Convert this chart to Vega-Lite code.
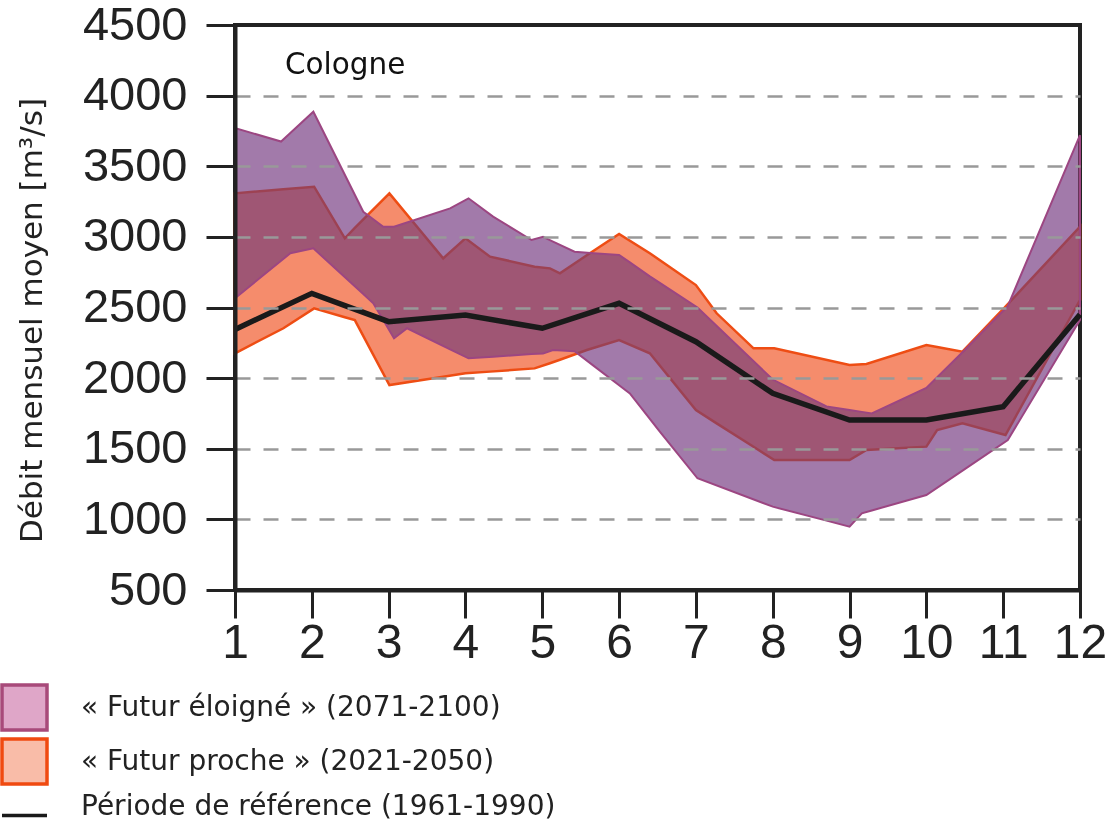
{
  "$schema": "https://vega.github.io/schema/vega-lite/v6.json",
  "width": 845,
  "height": 565,
  "autosize": "none",
  "padding": {"left": 235, "top": 25, "right": 35, "bottom": 231},
  "background": "white",
  "config": {
    "view": {"stroke": "#222", "strokeWidth": 4},
    "font": "DejaVu Sans"
  },
  "datasets": {
    "far": [
      {"month": 1.0, "low": 2565, "high": 3770},
      {"month": 1.6, "low": 2831, "high": 3675},
      {"month": 1.72, "low": 2884, "high": 3735},
      {"month": 2.02, "low": 2919, "high": 3886},
      {"month": 2.67, "low": 2595, "high": 3178},
      {"month": 2.8, "low": 2530, "high": 3125},
      {"month": 2.93, "low": 2411, "high": 3072},
      {"month": 3.07, "low": 2282, "high": 3072},
      {"month": 3.24, "low": 2353, "high": 3102},
      {"month": 3.8, "low": 2204, "high": 3202},
      {"month": 4.04, "low": 2140, "high": 3273},
      {"month": 4.36, "low": 2152, "high": 3143},
      {"month": 4.86, "low": 2170, "high": 2978},
      {"month": 5.01, "low": 2175, "high": 3001},
      {"month": 5.14, "low": 2199, "high": 2967},
      {"month": 5.42, "low": 2190, "high": 2895},
      {"month": 5.67, "low": 2087, "high": 2884},
      {"month": 6.0, "low": 1950, "high": 2872},
      {"month": 6.14, "low": 1892, "high": 2819},
      {"month": 6.4, "low": 1711, "high": 2720},
      {"month": 6.53, "low": 1621, "high": 2674},
      {"month": 7.02, "low": 1291, "high": 2500},
      {"month": 8.0, "low": 1090, "high": 1990},
      {"month": 8.7, "low": 991, "high": 1800},
      {"month": 9.0, "low": 948, "high": 1775},
      {"month": 9.16, "low": 1043, "high": 1761},
      {"month": 9.29, "low": 1063, "high": 1750},
      {"month": 10.0, "low": 1172, "high": 1930},
      {"month": 10.5, "low": 1356, "high": 2199},
      {"month": 11.06, "low": 1562, "high": 2510},
      {"month": 12.0, "low": 2411, "high": 3720}
    ],
    "near": [
      {"month": 1.0, "low": 2176, "high": 3308},
      {"month": 1.63, "low": 2353, "high": 3337},
      {"month": 2.03, "low": 2494, "high": 3355},
      {"month": 2.43, "low": 2431, "high": 2990},
      {"month": 2.56, "low": 2411, "high": 3063},
      {"month": 3.01, "low": 1951, "high": 3308},
      {"month": 3.71, "low": 2010, "high": 2848},
      {"month": 4.0, "low": 2034, "high": 2990},
      {"month": 4.32, "low": 2046, "high": 2860},
      {"month": 4.9, "low": 2069, "high": 2789},
      {"month": 5.1, "low": 2105, "high": 2777},
      {"month": 5.23, "low": 2130, "high": 2742},
      {"month": 5.58, "low": 2199, "high": 2870},
      {"month": 6.0, "low": 2270, "high": 3020},
      {"month": 6.4, "low": 2176, "high": 2884},
      {"month": 7.0, "low": 1774, "high": 2659},
      {"month": 7.27, "low": 1680, "high": 2459},
      {"month": 7.75, "low": 1514, "high": 2211},
      {"month": 8.02, "low": 1420, "high": 2211},
      {"month": 9.0, "low": 1420, "high": 2093},
      {"month": 9.22, "low": 1492, "high": 2100},
      {"month": 10.0, "low": 1515, "high": 2234},
      {"month": 10.14, "low": 1633, "high": 2220},
      {"month": 10.47, "low": 1680, "high": 2187},
      {"month": 11.03, "low": 1597, "high": 2506},
      {"month": 12.0, "low": 2553, "high": 3072}
    ],
    "ref": [
      {"month": 1, "value": 2345},
      {"month": 2, "value": 2600},
      {"month": 3, "value": 2400},
      {"month": 4, "value": 2447},
      {"month": 5, "value": 2353},
      {"month": 6, "value": 2530},
      {"month": 7, "value": 2258},
      {"month": 8, "value": 1892},
      {"month": 9, "value": 1703},
      {"month": 10, "value": 1703},
      {"month": 11, "value": 1798},
      {"month": 12, "value": 2450}
    ],
    "legend": [
      {"series": "« Futur éloigné » (2071-2100)"},
      {"series": "« Futur proche » (2021-2050)"},
      {"series": "Période de référence (1961-1990)"}
    ]
  },
  "layer": [
    {
      "data": {"name": "near"},
      "mark": {"type": "area", "fill": "#f58c6c", "stroke": "#ee4d14", "strokeWidth": 2.5, "strokeJoin": "miter"},
      "encoding": {
        "x": {
          "field": "month", "type": "quantitative",
          "scale": {"domain": [1, 12], "nice": false, "zero": false},
          "axis": {
            "values": [1, 2, 3, 4, 5, 6, 7, 8, 9, 10, 11, 12],
            "format": "d", "title": null, "grid": false,
            "labelFont": "Liberation Sans", "labelFontSize": 48, "labelColor": "#222",
            "labelPadding": 1, "labelFlush": false, "labelOverlap": false,
            "tickSize": 28, "tickWidth": 3, "tickColor": "#222",
            "domainColor": "#222", "domainWidth": 4
          }
        },
        "y": {
          "field": "low", "type": "quantitative",
          "scale": {"domain": [500, 4500], "nice": false, "zero": false},
          "axis": {
            "values": [500, 750, 1000, 1250, 1500, 1750, 2000, 2250, 2500, 2750, 3000, 3250, 3500, 3750, 4000, 4250, 4500],
            "format": "d",
            "labelExpr": "datum.value % 500 === 0 ? datum.label : ''",
            "labelFont": "Liberation Sans", "labelFontSize": 47, "labelColor": "#222",
            "labelPadding": 19, "labelFlush": false, "labelOverlap": false,
            "tickSize": {"condition": {"test": "datum.value % 500 === 0", "value": 29}, "value": 14},
            "tickWidth": 3, "tickColor": "#222",
            "domainColor": "#222", "domainWidth": 4,
            "grid": true, "gridDash": [15, 13], "gridColor": "#999999", "gridWidth": 2.3,
            "gridOpacity": {"condition": {"test": "datum.value % 500 === 0 && datum.value > 500 && datum.value < 4500", "value": 1}, "value": 0},
            "zindex": 1,
            "title": "Débit mensuel moyen [m³/s]",
            "titleFont": "DejaVu Sans", "titleFontSize": 31, "titleFontWeight": "normal",
            "titleColor": "#222", "titleAngle": 270, "titleX": -203, "titleY": 295,
            "titleAlign": "center", "titleBaseline": "middle"
          }
        },
        "y2": {"field": "high"}
      }
    },
    {
      "data": {"name": "far"},
      "mark": {"type": "area", "fill": "#8ca0bc", "blend": "multiply"},
      "encoding": {
        "x": {"field": "month", "type": "quantitative"},
        "y": {"field": "low", "type": "quantitative"},
        "y2": {"field": "high"}
      }
    },
    {
      "data": {"name": "far"},
      "mark": {"type": "area", "fill": "#b85498", "fillOpacity": 0.5, "stroke": "#9c4682", "strokeWidth": 2, "strokeJoin": "miter"},
      "encoding": {
        "x": {"field": "month", "type": "quantitative"},
        "y": {"field": "low", "type": "quantitative"},
        "y2": {"field": "high"}
      }
    },
    {
      "data": {"name": "ref"},
      "mark": {"type": "line", "stroke": "#1a1a1a", "strokeWidth": 5.5, "strokeJoin": "miter"},
      "encoding": {
        "x": {"field": "month", "type": "quantitative"},
        "y": {"field": "value", "type": "quantitative"}
      }
    },
    {
      "data": {"values": [{"label": "Cologne"}]},
      "mark": {"type": "text", "align": "left", "baseline": "middle", "font": "DejaVu Sans", "fontSize": 29.5, "color": "#111"},
      "encoding": {
        "x": {"datum": 1.65, "type": "quantitative"},
        "y": {"datum": 4215, "type": "quantitative"},
        "text": {"field": "label"}
      }
    },
    {
      "data": {"name": "legend"},
      "mark": {"type": "point", "filled": true, "opacity": 0},
      "encoding": {
        "x": {"datum": 6, "type": "quantitative"},
        "y": {"datum": 2500, "type": "quantitative"},
        "fill": {
          "field": "series", "type": "nominal",
          "scale": {"domain": ["« Futur éloigné » (2071-2100)", "« Futur proche » (2021-2050)", "Période de référence (1961-1990)"], "range": ["#dfa6c8", "#f9bca8", "#1a1a1a"]},
          "legend": {
            "orient": "none", "legendX": -235, "legendY": 658, "title": null,
            "symbolSize": 2025, "symbolStrokeWidth": 3.5,
            "labelFont": "DejaVu Sans", "labelFontSize": 28, "labelColor": "#222",
            "labelOffset": 32, "rowPadding": -9, "labelLimit": 0, "padding": 0,
            "encode": {
              "symbols": {
                "update": {
                  "fill": {"scale": "fill", "field": "value"},
                  "fillOpacity": {"value": 1},
                  "opacity": {"value": 1}
                }
              },
              "labels": {
                "update": {
                  "dy": {"signal": "datum.value === 'Période de référence (1961-1990)' ? -9 : 0"}
                }
              }
            }
          }
        },
        "stroke": {
          "field": "series", "type": "nominal",
          "scale": {"domain": ["« Futur éloigné » (2071-2100)", "« Futur proche » (2021-2050)", "Période de référence (1961-1990)"], "range": ["#a84a7a", "#f04a10", "#1a1a1a"]}
        },
        "shape": {
          "field": "series", "type": "nominal",
          "scale": {"domain": ["« Futur éloigné » (2071-2100)", "« Futur proche » (2021-2050)", "Période de référence (1961-1990)"], "range": ["square", "square", "stroke"]}
        }
      }
    }
  ]
}
